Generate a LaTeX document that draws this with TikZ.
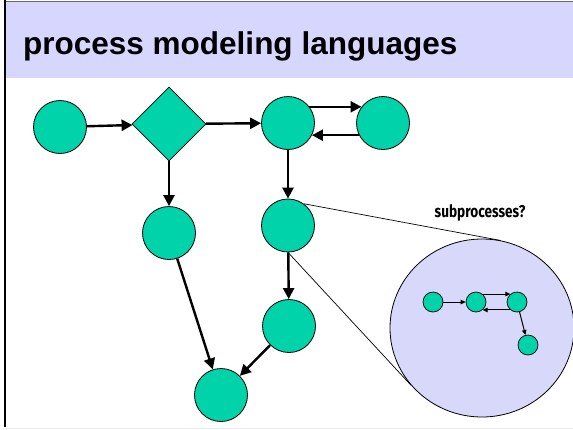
\documentclass[tikz,border=0pt]{standalone}
\usepackage{fontspec}
\setmainfont{Liberation Sans}
\newfontfamily\notefont{Fira Sans}
\usetikzlibrary{shapes.geometric,arrows.meta}

\definecolor{teal}{RGB}{0,210,170}
\definecolor{lavender}{RGB}{214,214,255}
\definecolor{callout}{RGB}{216,216,250}

\tikzset{
  proc/.style={circle, draw=black, line width=0.8pt, fill=teal,
    minimum size=53pt, inner sep=0pt},
  choice/.style={diamond, draw=black, line width=0.8pt, fill=teal,
    minimum size=74pt, inner sep=0pt},
  flow/.style={line width=2.4pt, -{Triangle[length=11pt,width=11pt]}},
  subproc/.style={circle, draw=black, line width=0.7pt, fill=teal,
    minimum size=20pt, inner sep=0pt},
  subflow/.style={line width=1pt, -{Triangle[length=5pt,width=4.5pt]}},
  lens/.style={line width=0.7pt},
}

\begin{document}
\begin{tikzpicture}[x=1pt, y=-1pt]
  \useasboundingbox (0,0) rectangle (573,429);
  \fill[white] (0,0) rectangle (573,429);

  % title band and frame
  \fill[lavender] (5,1.5) rectangle (573,78);
  \draw[gray!80!black, line width=0.8pt] (5,1) -- (573,1);
  \draw[black, line width=1.2pt] (5,0) -- (5,427);
  \draw[gray!15, line width=0.8pt] (5,428) -- (573,428);
  \node[anchor=base west, inner sep=0pt, font=\fontsize{31.5}{36}\selectfont\bfseries]
    (title) at (23,54.5) {process modeling languages};

  % callout for a subprocess
  \node[ellipse, draw=black, line width=0.8pt, fill=callout,
    minimum width=184pt, minimum height=178pt, inner sep=0pt] (zoom) at (482,328) {};

  % main process graph
  \node[proc]   (a) at (60,127)  {};
  \node[choice] (d) at (169,124) {};
  \node[proc]   (b) at (288,123) {};
  \node[proc]   (c) at (383,123) {};
  \node[proc]   (e) at (169,233) {};
  \node[proc]   (f) at (288,225.5) {};
  \node[proc]   (g) at (289,326) {};
  \node[proc]   (h) at (221,395) {};

  % lines from the subprocess node to its callout
  \draw[lens] (f.54) -- (zoom.78);
  \draw[lens] (f.south) -- (zoom.219);

  \draw[flow] (a) -- (d);
  \draw[flow] (d) -- (b);
  \draw[flow] (d.south) -- (e);
  \draw[flow] (b.37) -- (c.143);
  \draw[flow] (c.-153) -- (b.-27);
  \draw[flow] (b) -- (f);
  \draw[flow] (f) -- (g);
  \draw[flow] (e) -- (h);
  \draw[flow] (g) -- (h);

  % subprocess graph inside the callout
  \node[subproc] (s1) at (433,302) {};
  \node[subproc] (s2) at (476,302) {};
  \node[subproc] (s3) at (517,302) {};
  \node[subproc] (s4) at (528,345) {};
  \draw[subflow] (s1) -- (s2);
  \draw[subflow] (s2.50) -- (s3.130);
  \draw[subflow] (s3.-130) -- (s2.-50);
  \draw[subflow] (s3) -- (s4);

  \node[inner sep=0pt, font=\notefont\bfseries\fontsize{17}{19}\selectfont]
    (note) at (480,213) {\scalebox{0.8}[1]{subprocesses?}};
\end{tikzpicture}
\end{document}
